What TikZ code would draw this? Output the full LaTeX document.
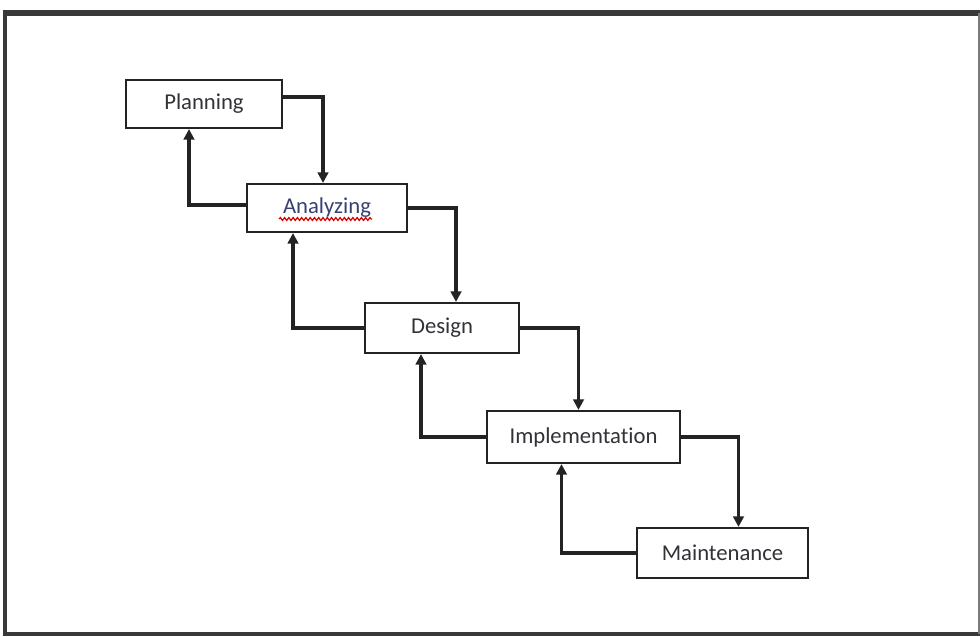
\documentclass[tikz,border=0pt]{standalone}
\usepackage{fontspec}
\setmainfont{Carlito}[Ligatures={NoCommon}]
\usetikzlibrary{arrows.meta,calc,decorations.pathmorphing}
\definecolor{txt}{RGB}{50,50,55}
\definecolor{linec}{RGB}{35,35,35}
\definecolor{bluetxt}{RGB}{55,65,115}
\tikzset{
  stagebox/.style={draw=linec, line width=1.6pt, fill=white, inner sep=0pt,
    font=\fontsize{17}{20}\selectfont, text=txt},
  flow/.style={draw=linec, line width=2.8pt,
    -{Triangle[length=8pt,width=8pt]}},
  squiggle/.style={draw=red!85!black, line width=0.9pt, decorate,
    decoration={snake, amplitude=1.1pt, segment length=3.2pt}}
}
\begin{document}
\begin{tikzpicture}[x=0.75pt,y=-0.75pt]
\useasboundingbox (0,0) rectangle (980,636);
% frame
\draw[linec!90, line width=5.2pt] (3,13) -- (980,13);
\draw[linec!90, line width=3pt] (5,13) -- (5,634) -- (980,634);
\draw[linec!60, line width=2pt] (979,13) -- (979,634);
% stages
\node[stagebox, minimum width=156*0.75pt, minimum height=48*0.75pt] (P) at (204,104) {Planning};
\node[stagebox, minimum width=160*0.75pt, minimum height=48*0.75pt, text=bluetxt] (A) at (327,208) {Analyzing};
\node[stagebox, minimum width=154*0.75pt, minimum height=50*0.75pt] (D) at (442,328) {Design};
\node[stagebox, minimum width=193*0.75pt, minimum height=52*0.75pt] (I) at (583.5,437) {Implementation};
\node[stagebox, minimum width=171*0.75pt, minimum height=50*0.75pt] (M) at (722.5,553) {Maintenance};
% spell-check underline
\coordinate (sqa) at ($(A.center)+(-48,11)$);
\coordinate (sqb) at ($(A.center)+(45,11)$);
\draw[squiggle] (sqa) -- (sqb);
% forward flow
\draw[flow] ($(P.east)+(0,-7)$) -| ($(A.north)+(-4,0)$);
\draw[flow] (A.east) -| ($(D.north)+(14,0)$);
\draw[flow] (D.east) -| ($(I.north)+(-5,0)$);
\draw[flow] (I.east) -| ($(M.north)+(16,0)$);
% feedback flow
\draw[flow] ($(A.west)+(0,-3)$) -| ($(P.south)+(-15,0)$);
\draw[flow] (D.west) -| ($(A.south)+(-34,0)$);
\draw[flow] (I.west) -| ($(D.south)+(-21,0)$);
\draw[flow] (M.west) -| ($(I.south)+(-22,0)$);
\end{tikzpicture}
\end{document}
